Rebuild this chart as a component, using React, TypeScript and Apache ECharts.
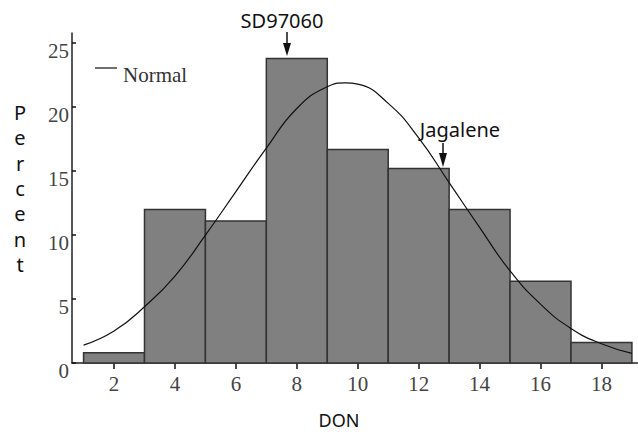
import React, { useEffect, useRef } from "react";
import * as echarts from "echarts";

// Histogram bins (centres, width 2) and percentages
const binCenters = [2, 4, 6, 8, 10, 12, 14, 16, 18];
const percents = [0.8, 12.0, 11.1, 23.8, 16.7, 15.2, 12.0, 6.4, 1.6];

// Fitted normal curve
const normalX = [1, 2, 3, 4, 5, 6, 7, 8, 9, 9.6, 10, 11, 12, 13, 14, 15, 16, 17, 18, 19];
const normalY = [1.4, 2.5, 4.4, 6.8, 10.0, 13.4, 16.8, 19.9, 21.6, 21.9, 21.8, 20.3, 17.6, 14.1, 10.6, 7.2, 4.6, 2.7, 1.5, 0.75];

const xTicks = [2, 4, 6, 8, 10, 12, 14, 16, 18];
const yTicks = [0, 5, 10, 15, 20, 25];

const SANS = "'Noto Sans', 'DejaVu Sans', sans-serif";
const SERIF = "'Liberation Serif', 'DejaVu Serif', serif";

export default function App() {
  const ref = useRef<HTMLDivElement>(null);

  useEffect(() => {
    document.body.style.margin = "0";
    if (!ref.current) return;
    const chart = echarts.init(ref.current, undefined, { renderer: "svg" });

    const option: any = {
      animation: false,
      backgroundColor: "#ffffff",
      grid: { left: 72, right: 0, top: 33, bottom: 69 },
      xAxis: {
        type: "value",
        min: 0.62,
        max: 19.2,
        splitLine: { show: false },
        axisLine: { lineStyle: { color: "#222", width: 1.5 } },
        axisTick: {
          customValues: xTicks,
          length: 6,
          lineStyle: { color: "#111", width: 1.5 },
        },
        axisLabel: {
          customValues: xTicks,
          fontFamily: SERIF,
          fontSize: 21,
          color: "#444",
          margin: 10,
        },
      },
      yAxis: {
        type: "value",
        min: 0,
        max: 25.8,
        splitLine: { show: false },
        axisLine: { show: true, lineStyle: { color: "#222", width: 1.5 } },
        axisTick: {
          show: true,
          customValues: yTicks,
          inside: true,
          length: 4,
          lineStyle: { color: "#111", width: 1.5 },
        },
        axisLabel: {
          customValues: yTicks,
          fontFamily: SERIF,
          fontSize: 21,
          color: "#444",
          margin: 3,
          verticalAlign: "top",
          lineHeight: 16,
        },
      },
      series: [
        {
          type: "custom",
          name: "DON",
          data: binCenters.map((c, i) => [c, percents[i]]),
          renderItem: (params: any, api: any) => {
            const x = api.value(0);
            const y = api.value(1);
            const p1 = api.coord([x - 1, y]);
            const p2 = api.coord([x + 1, 0]);
            return {
              type: "rect",
              shape: { x: p1[0], y: p1[1], width: p2[0] - p1[0], height: p2[1] - p1[1] },
              style: { fill: "#808080", stroke: "#333333", lineWidth: 1.5 },
            };
          },
        },
        {
          type: "line",
          name: "Normal",
          data: normalX.map((x, i) => [x, normalY[i]]),
          smooth: true,
          symbol: "none",
          lineStyle: { color: "#111", width: 1.2 },
          z: 5,
        },
      ],
      graphic: [
        // Legend
        { type: "line", shape: { x1: 95, y1: 68, x2: 117, y2: 68 }, style: { stroke: "#111", lineWidth: 1.2 } },
        {
          type: "text",
          x: 123,
          y: 75,
          style: { text: "Normal", font: `21px ${SERIF}`, fill: "#333", verticalAlign: "middle" },
        },
        // Y axis name
        {
          type: "text",
          x: 20,
          y: 100,
          style: {
            text: "P\ne\nr\nc\ne\nn\nt",
            font: `20px ${SANS}`,
            fill: "#111",
            align: "center",
            verticalAlign: "top",
            lineHeight: 25.3,
          },
        },
        // X axis name
        {
          type: "text",
          x: 339,
          y: 420,
          style: { text: "DON", font: `18px ${SANS}`, fill: "#111", align: "center", verticalAlign: "middle" },
        },
        // SD97060 annotation
        {
          type: "text",
          x: 282,
          y: 20,
          style: { text: "SD97060", font: `20px ${SANS}`, fill: "#111", align: "center", verticalAlign: "middle" },
        },
        { type: "line", shape: { x1: 287, y1: 32, x2: 287, y2: 46 }, style: { stroke: "#111", lineWidth: 1.5 } },
        { type: "polygon", shape: { points: [[283, 43], [291, 43], [287, 56]] }, style: { fill: "#111" } },
        // Jagalene annotation
        {
          type: "text",
          x: 460,
          y: 129,
          style: { text: "Jagalene", font: `20px ${SANS}`, fill: "#111", align: "center", verticalAlign: "middle" },
        },
        { type: "line", shape: { x1: 443, y1: 143, x2: 443, y2: 156 }, style: { stroke: "#111", lineWidth: 1.5 } },
        { type: "polygon", shape: { points: [[439, 153], [447, 153], [443, 167]] }, style: { fill: "#111" } },
      ],
    };

    chart.setOption(option);
    return () => chart.dispose();
  }, []);

  return <div ref={ref} style={{ width: 638, height: 432 }} />;
}
